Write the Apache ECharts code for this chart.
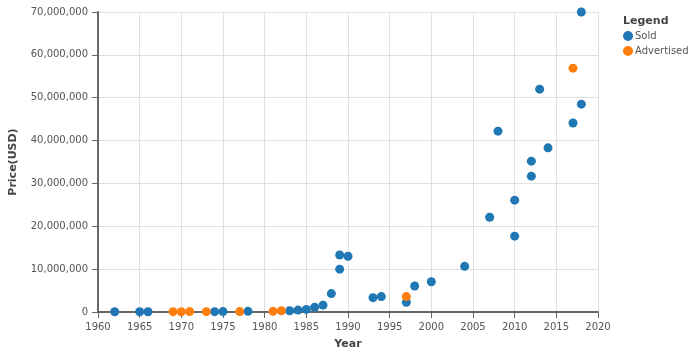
<!DOCTYPE html>
<html>
<head>
<meta charset="utf-8">
<script src="https://cdn.jsdelivr.net/npm/echarts@6/dist/echarts.min.js"></script>
<style>html,body{margin:0;padding:0;background:#fff}#c{width:697px;height:356px}</style>
</head>
<body>
<div id="c"></div>
<script>
const soldYears = [1962,1965,1966,1974,1975,1978,1983,1984,1985,1986,1987,1988,1989,1989,1990,1993,1994,1997,1998,2000,2004,2007,2008,2010,2010,2012,2012,2013,2014,2017,2018,2018];
const soldPrices = [60000,50000,70000,80000,100000,160000,300000,450000,600000,1100000,1600000,4300000,13300000,10000000,13000000,3350000,3600000,2250000,6070000,7070000,10650000,22100000,42200000,26100000,17700000,35200000,31700000,52000000,38300000,44100000,48500000,70000000];
const advYears = [1969,1970,1971,1973,1977,1981,1982,1997,2017];
const advPrices = [80000,60000,90000,80000,100000,150000,300000,3600000,56900000];
const xTicks = {min:1960, max:2020, interval:5};
const yTicks = {min:0, max:70000000, interval:10000000};

const sold = soldYears.map((y,i)=>[y, soldPrices[i]]);
const adv = advYears.map((y,i)=>[y, advPrices[i]]);
const chart = echarts.init(document.getElementById('c'), null, {renderer:'canvas'});
const font = 'DejaVu Sans, sans-serif';
const axisCol = '#666';
chart.setOption({
  animation:false,
  textStyle:{fontFamily:font},
  grid:{left:98,right:99,top:12,bottom:44,containLabel:false,outerBoundsMode:'none'},
  xAxis:{type:'value',min:xTicks.min,max:xTicks.max,interval:xTicks.interval,
    name:'Year',nameLocation:'middle',nameGap:27,
    nameTextStyle:{fontWeight:'bold',fontSize:11,color:'#444',fontFamily:font},
    axisLine:{lineStyle:{color:axisCol,width:2}},
    axisTick:{show:true,length:6,lineStyle:{color:axisCol,width:1}},
    axisLabel:{fontSize:10,color:'#555',margin:10,formatter:v=>String(v),fontFamily:font},
    splitLine:{show:true,lineStyle:{color:'#e0e0e0',width:1}}},
  yAxis:{type:'value',min:yTicks.min,max:yTicks.max,interval:yTicks.interval,
    name:'Price(USD)',nameLocation:'middle',nameGap:79,nameRotate:90,
    nameTextStyle:{fontWeight:'bold',fontSize:11,color:'#444',fontFamily:font},
    axisLine:{show:true,lineStyle:{color:axisCol,width:2}},
    axisTick:{show:true,length:6,lineStyle:{color:axisCol,width:1}},
    axisLabel:{fontSize:10,color:'#555',margin:10,fontFamily:font,formatter:v=>v.toLocaleString('en-US')},
    splitLine:{show:true,lineStyle:{color:'#e0e0e0',width:1}}},
  legend:{orient:'vertical',left:618,top:26,itemWidth:10,itemHeight:10,itemGap:5,icon:'circle',
    textStyle:{fontSize:10,color:'#555',fontFamily:font,padding:[0,0,0,-3]},
    data:['Sold','Advertised']},
  graphic:[{type:'text',left:623,top:16,style:{text:'Legend',font:'bold 11px '+font,fill:'#444'}}],
  series:[
    {name:'Sold',type:'scatter',data:sold,symbolSize:9,itemStyle:{color:'#1f77b4',opacity:1}},
    {name:'Advertised',type:'scatter',data:adv,symbolSize:9,itemStyle:{color:'#ff7f0e',opacity:1}}
  ]
});
</script>
</body>
</html>
